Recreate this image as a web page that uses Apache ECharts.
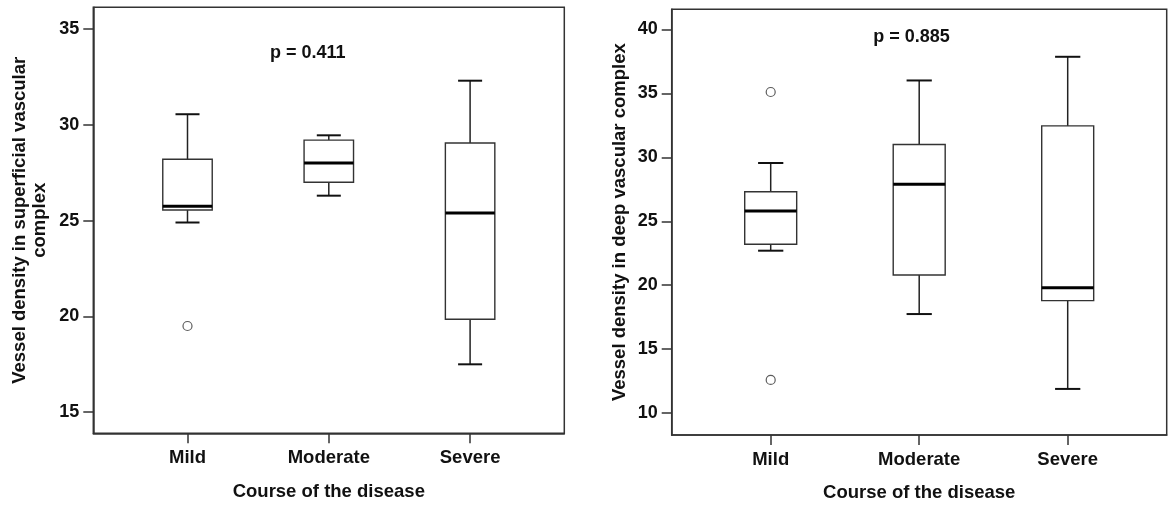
<!DOCTYPE html>
<html><head><meta charset="utf-8">
<script src="https://cdn.jsdelivr.net/npm/echarts@6/dist/echarts.min.js"></script>
<style>html,body{margin:0;padding:0;background:#fff}#c{width:1173px;height:505px}</style>
</head><body><div id="c"></div>
<script>
// ---- data ----
const categories = ['Mild', 'Moderate', 'Severe'];
// each box: [lower whisker, Q1, median, Q3, upper whisker]
const superficialBoxes = [
  [24.9, 25.55, 25.75, 28.2, 30.55],
  [26.3, 27.0, 28.0, 29.2, 29.45],
  [17.5, 19.85, 25.4, 29.05, 32.3]
];
// outliers: [category index, value]
const superficialOutliers = [[0, 19.5]];
const deepBoxes = [
  [22.7, 23.2, 25.8, 27.3, 29.55],
  [17.75, 20.8, 27.9, 31.0, 36.0],
  [11.9, 18.8, 19.8, 32.45, 37.85]
];
const deepOutliers = [[0, 35.1], [0, 12.6]];
const superficialTicks = [15, 20, 25, 30, 35];
const deepTicks = [10, 15, 20, 25, 30, 35, 40];
const pTexts = ['p = 0.411', 'p = 0.885'];
const yTitles = ['Vessel density in superficial vascular\ncomplex', 'Vessel density in deep vascular complex'];
const xTitle = 'Course of the disease';

// ---- rendering ----
const FONT = '"Liberation Sans", Arial, Helvetica, sans-serif';
const TXT = '#111';
const LINE = '#333';
const BOX_W = 0.35, CAP_W = 0.17;

function renderBox(params, api) {
  const x = api.value(0);
  const pLo = api.coord([x, api.value(1)]);
  const pQ1 = api.coord([x, api.value(2)]);
  const pMed = api.coord([x, api.value(3)]);
  const pQ3 = api.coord([x, api.value(4)]);
  const pHi = api.coord([x, api.value(5)]);
  const half = api.size([BOX_W, 0])[0] / 2;
  const capHalf = api.size([CAP_W, 0])[0] / 2;
  const cx = pMed[0];
  const wStyle = { stroke: '#222', lineWidth: 1.5 };
  const cStyle = { stroke: '#111', lineWidth: 2 };
  return {
    type: 'group',
    children: [
      { type: 'line', shape: { x1: cx, y1: pHi[1], x2: cx, y2: pQ3[1] }, style: wStyle },
      { type: 'line', shape: { x1: cx, y1: pQ1[1], x2: cx, y2: pLo[1] }, style: wStyle },
      { type: 'line', shape: { x1: cx - capHalf, y1: pHi[1], x2: cx + capHalf, y2: pHi[1] }, style: cStyle },
      { type: 'line', shape: { x1: cx - capHalf, y1: pLo[1], x2: cx + capHalf, y2: pLo[1] }, style: cStyle },
      { type: 'rect', shape: { x: cx - half, y: pQ3[1], width: 2 * half, height: pQ1[1] - pQ3[1] },
        style: { fill: '#fff', stroke: LINE, lineWidth: 1.4 } },
      { type: 'line', shape: { x1: cx - half, y1: pMed[1], x2: cx + half, y2: pMed[1] },
        style: { stroke: '#000', lineWidth: 3 } }
    ]
  };
}

const grids = [
  { left: 93.3, top: 7.3, width: 471, height: 426 },
  { left: 671.7, top: 9.3, width: 495, height: 425.7 }
];
const yRanges = [[13.9, 36.13], [8.3, 41.56]];
const yTickSets = [superficialTicks, deepTicks];
const yNameGaps = [43.3, 41.7];
const xNameGaps = [48.4, 47.5];

const option = {
  animation: false,
  backgroundColor: '#fff',
  grid: grids.map(g => Object.assign({ show: true, borderColor: LINE, borderWidth: 1.5, containLabel: false, outerBoundsMode: 'none' }, g)),
  xAxis: [0, 1].map(i => ({
    type: 'value', gridIndex: i, min: -2 / 3, max: 2 + 2 / 3,
    splitLine: { show: false },
    axisLine: { show: true, onZero: false, lineStyle: { color: LINE, width: 1.5 } },
    axisTick: { show: true, customValues: [0, 1, 2], length: 10, lineStyle: { color: LINE, width: 1.5 } },
    axisLabel: { customValues: [0, 1, 2], formatter: v => categories[Math.round(v)] || '',
      margin: 15, color: TXT, fontSize: 18.5, fontWeight: 'bold', fontFamily: FONT, lineHeight: 20 },
    name: xTitle, nameLocation: 'middle', nameGap: xNameGaps[i],
    nameTextStyle: { color: TXT, fontSize: 18.5, fontWeight: 'bold', fontFamily: FONT, lineHeight: 20 }
  })),
  yAxis: [0, 1].map(i => ({
    type: 'value', gridIndex: i, min: yRanges[i][0], max: yRanges[i][1],
    splitLine: { show: false },
    axisLine: { show: true, onZero: false, lineStyle: { color: LINE, width: 1.5 } },
    axisTick: { show: true, customValues: yTickSets[i], length: 10, lineStyle: { color: LINE, width: 1.5 } },
    axisLabel: { customValues: yTickSets[i], margin: 14, color: TXT, fontSize: 18, fontWeight: 'bold', fontFamily: FONT },
    name: yTitles[i], nameLocation: 'middle', nameGap: yNameGaps[i], nameRotate: 90,
    nameTextStyle: { color: TXT, fontSize: 18.5, fontWeight: 'bold', fontFamily: FONT, lineHeight: 20, align: 'center' }
  })),
  graphic: [
    { type: 'text', x: 307.7, y: 53.3, style: { text: pTexts[0], fill: TXT, font: 'bold 18px ' + FONT, textAlign: 'center', textVerticalAlign: 'middle' } },
    { type: 'text', x: 911.5, y: 37.3, style: { text: pTexts[1], fill: TXT, font: 'bold 18px ' + FONT, textAlign: 'center', textVerticalAlign: 'middle' } }
  ],
  series: [
    { type: 'custom', xAxisIndex: 0, yAxisIndex: 0, renderItem: renderBox,
      encode: { x: 0, y: [1, 2, 3, 4, 5] }, data: superficialBoxes.map((b, i) => [i].concat(b)) },
    { type: 'custom', xAxisIndex: 1, yAxisIndex: 1, renderItem: renderBox,
      encode: { x: 0, y: [1, 2, 3, 4, 5] }, data: deepBoxes.map((b, i) => [i].concat(b)) },
    { type: 'scatter', xAxisIndex: 0, yAxisIndex: 0, symbol: 'circle', symbolSize: 9,
      itemStyle: { color: '#fff', borderColor: LINE, borderWidth: 1.2 }, data: superficialOutliers },
    { type: 'scatter', xAxisIndex: 1, yAxisIndex: 1, symbol: 'circle', symbolSize: 9,
      itemStyle: { color: '#fff', borderColor: LINE, borderWidth: 1.2 }, data: deepOutliers }
  ]
};

const chart = echarts.init(document.getElementById('c'), null, { renderer: 'canvas' });
chart.setOption(option);
</script>
</body></html>
